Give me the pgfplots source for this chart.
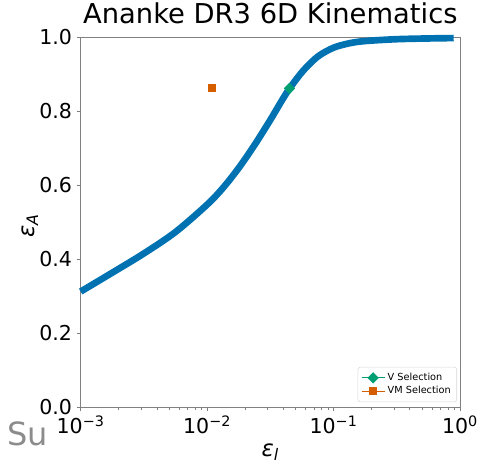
\documentclass[border=0pt]{standalone}
\usepackage{fontspec}
\setmainfont{DejaVu Sans}
\usepackage{pgfplots}
\pgfplotsset{compat=1.18}
\definecolor{cbblue}{HTML}{0072B2}
\definecolor{cbgreen}{HTML}{009E73}
\definecolor{cborange}{HTML}{D55E00}
\definecolor{spine}{HTML}{808080}

\begin{document}
\begin{tikzpicture}
\useasboundingbox (-60.5pt,-45.5pt) rectangle (303.2pt,305.5pt);
\begin{axis}[
  scale only axis,
  width=284.5pt, height=277.5pt,
  xmode=log,
  xmin=1e-3, xmax=1, ymin=0, ymax=1,
  axis line style={spine},
  every tick/.style={spine},
  tick align=outside,
  xtick pos=bottom, ytick pos=left,
  major tick length=3pt, minor tick length=1.6pt,
  xtick={1e-3,1e-2,1e-1,1},
  xticklabels={10\textsuperscript{−3},10\textsuperscript{−2},10\textsuperscript{−1},10\textsuperscript{0}},
  minor xtick={2e-3,3e-3,4e-3,5e-3,6e-3,7e-3,8e-3,9e-3,2e-2,3e-2,4e-2,5e-2,6e-2,7e-2,8e-2,9e-2,0.2,0.3,0.4,0.5,0.6,0.7,0.8,0.9},
  ytick={0,0.2,0.4,0.6,0.8,1.0},
  yticklabel style={/pgf/number format/.cd,fixed,fixed zerofill,precision=1,assume math mode=true},
  tick label style={font=\fontsize{15.4}{18}\selectfont, black},
  title={Ananke DR3 6D Kinematics},
  title style={font=\fontsize{20.5}{25}\selectfont, at={(0.5,1)}, anchor=base, yshift=4.5pt},
  xlabel={\textit{ε}\textsubscript{\textit{l}}},
  xlabel style={font=\fontsize{17}{20}\selectfont, at={(axis description cs:0.5,0)}, anchor=base, yshift=-36.5pt},
  ylabel={\textit{ε}\textsubscript{\textit{A}}},
  ylabel style={font=\fontsize{17}{20}\selectfont, at={(axis description cs:-0.134,0.49)}, anchor=center, rotate=0},
  legend style={at={(0.992,0.014)}, anchor=south east, draw=black!15, rounded corners=2pt,
    font=\fontsize{7.3}{9}\selectfont, row sep=-1pt, inner sep=2.5pt},
  legend cell align=left,
  clip=false,
]
\addplot[cbblue, line width=5pt, smooth, forget plot] coordinates {
  (0.001,0.313) (0.001778,0.364) (0.003162,0.416) (0.005623,0.474)
  (0.01,0.548) (0.01334,0.593) (0.01778,0.647) (0.02371,0.709)
  (0.03162,0.777) (0.04217,0.848) (0.05623,0.906) (0.07499,0.948)
  (0.1,0.972) (0.1334,0.984) (0.1778,0.990) (0.3162,0.995)
  (0.5623,0.997) (0.891,0.998)
};
\addplot[cbgreen, thick, mark=square*, mark size=2.6pt, mark options={rotate=45, fill=cbgreen, draw=cbgreen}] coordinates {(0.0448,0.862)};
\addlegendentry{V Selection}
\addplot[cborange, thick, mark=square*, mark size=2.6pt] coordinates {(0.011,0.862)};
\addlegendentry{VM Selection}
\end{axis}
\node[anchor=base west, text=black!45, font=\fontsize{24}{28}\selectfont, inner sep=0pt] at (-55.3pt,-28.3pt) {Su};
\end{tikzpicture}
\end{document}
